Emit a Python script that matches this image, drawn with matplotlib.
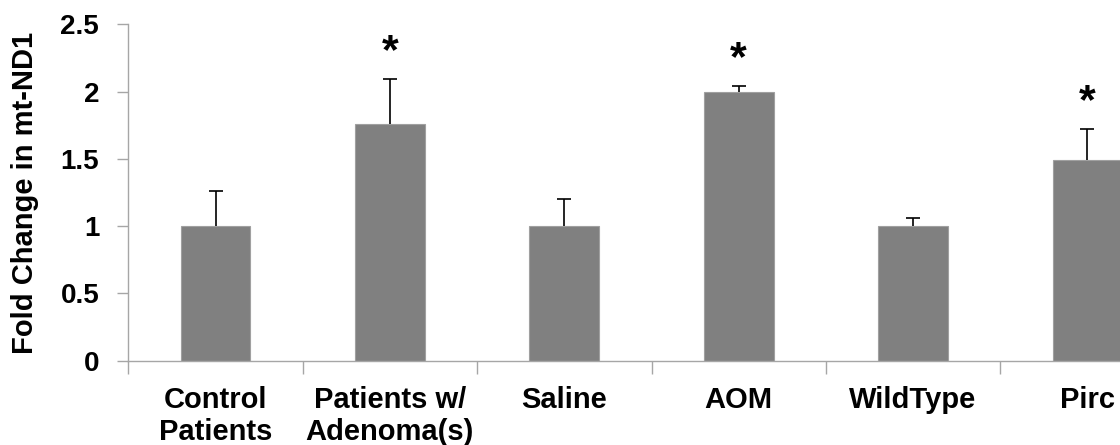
import matplotlib
matplotlib.use("Agg")
import matplotlib.pyplot as plt
import numpy as np

categories = ["Control\nPatients", "Patients w/\nAdenoma(s)", "Saline", "AOM", "WildType", "Pirc"]
means = [1.0, 1.76, 1.0, 2.0, 1.0, 1.49]
errors = [0.26, 0.33, 0.20, 0.04, 0.06, 0.23]
significant = [False, True, False, True, False, True]
y_ticks = [0, 0.5, 1, 1.5, 2, 2.5]
y_tick_labels = ["0", "0.5", "1", "1.5", "2", "2.5"]

plt.rcParams['font.family'] = ['Liberation Sans', 'DejaVu Sans']
plt.rcParams['font.weight'] = 'bold'

fig = plt.figure(figsize=(11.2, 4.45), dpi=100)
ax = fig.add_axes([0.1146, 0.1894, 0.9342, 0.756])

x = np.arange(len(categories))
axis_gray = '#a6a6a6'
ax.bar(x, means, width=0.4, color='#808080', edgecolor='#a0a0a0', linewidth=0.8, zorder=2)
eb = ax.errorbar(x, means, yerr=[np.zeros(len(means)), errors], fmt='none',
                 ecolor='black', elinewidth=1.2, capsize=5, capthick=1.2, zorder=3)
# hide the lower caps (only upper error shown)
caplines = eb[1]
if len(caplines) >= 2:
    caplines[0].set_visible(False)

for xi, m, e, s in zip(x, means, errors, significant):
    if s:
        ax.text(xi, m + e + 0.2, "*", ha='center', va='center', fontsize=31,
                fontweight='bold', color='black')

ax.set_xlim(-0.5, len(categories) - 0.5)
ax.set_ylim(0, 2.5)
ax.set_yticks(y_ticks)
ax.set_yticklabels(y_tick_labels, fontsize=20, fontweight='bold')
ax.set_xticks(x)
ax.set_xticklabels(categories, fontsize=21, fontweight='bold', linespacing=1.2)
ax.set_xticks(np.arange(len(categories) + 1) - 0.5, minor=True)
ax.tick_params(axis='x', which='major', length=0, pad=18)
ax.tick_params(axis='x', which='minor', length=9, width=1, color=axis_gray, direction='out')
ax.tick_params(axis='y', length=8, width=1, color=axis_gray, direction='out', pad=13)

for side in ['top', 'right']:
    ax.spines[side].set_visible(False)
for side in ['left', 'bottom']:
    ax.spines[side].set_color(axis_gray)
    ax.spines[side].set_linewidth(1)

ax.set_ylabel("Fold Change in mt-ND1", fontsize=21, fontweight='bold')
ax.yaxis.set_label_coords(-0.085, 0.5)

fig.savefig("out.png", dpi=100)
